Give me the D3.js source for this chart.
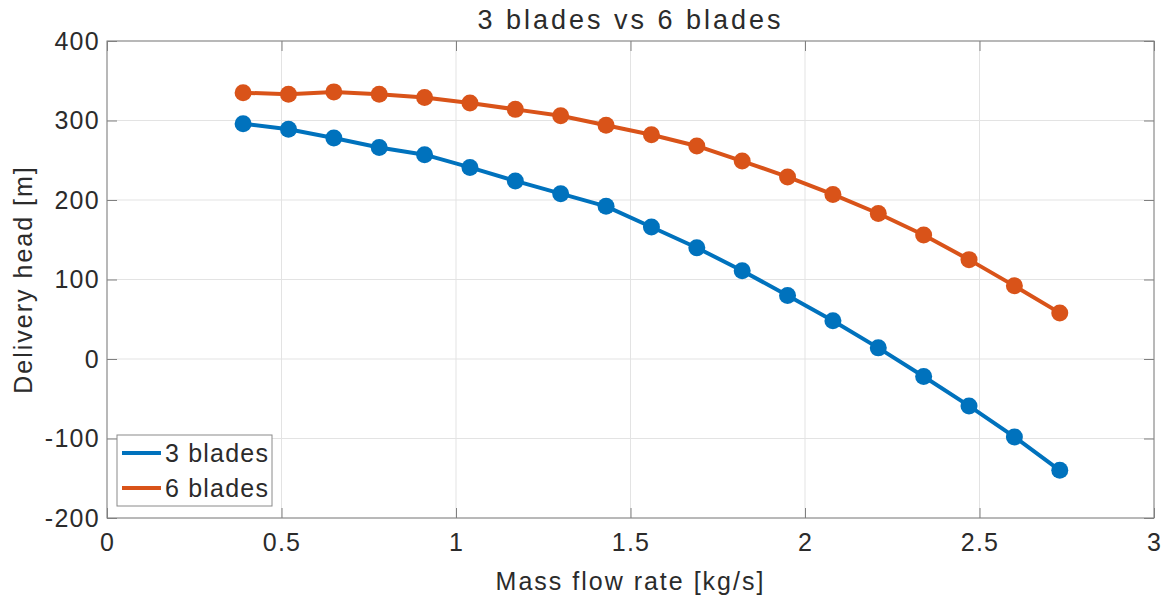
<!DOCTYPE html>
<html>
<head>
<meta charset="utf-8">
<script src="https://cdn.jsdelivr.net/npm/d3@7"></script>
<style>
  body { margin: 0; background: #fff; }
  text { font-family: "Liberation Sans", Arial, sans-serif; fill: #2b2b2b; }
</style>
</head>
<body>
<svg></svg>
<script>
// mass flow rate [kg/s]
const massFlow = [0.39, 0.52, 0.65, 0.78, 0.91, 1.04, 1.17, 1.30, 1.43, 1.56,
                  1.69, 1.82, 1.95, 2.08, 2.21, 2.34, 2.47, 2.60, 2.73];
// delivery head [m]
const head3 = [296, 289, 278, 266, 257, 241, 224, 208, 192, 166,
               140, 111, 80, 48, 14, -22, -59, -98, -140];
const head6 = [335, 333, 336, 333, 329, 322, 314, 306, 294, 282,
               268, 249, 229, 207, 183, 156, 125, 92, 58];
const seriesNames = ["3 blades", "6 blades"];
const seriesColors = ["#0072BD", "#D95319"];
const xTicks = [0, 0.5, 1, 1.5, 2, 2.5, 3];
const yTicks = [-200, -100, 0, 100, 200, 300, 400];

const svgWidth = 1173, svgHeight = 601;
const margin = { top: 41, right: 19, bottom: 83, left: 107 };
const width = svgWidth - margin.left - margin.right;
const height = svgHeight - margin.top - margin.bottom;
const fontSize = 25, spacing = 2, tickSpacing = 1.3;

const svg = d3.select("svg")
    .attr("width", svgWidth)
    .attr("height", svgHeight);

const g = svg.append("g")
    .attr("transform", "translate(" + margin.left + "," + margin.top + ")");

const x = d3.scaleLinear().domain([0, 3]).range([0, width]);
const y = d3.scaleLinear().domain([-200, 400]).range([height, 0]);

// grid
g.append("g").selectAll("line").data(xTicks).join("line")
    .attr("x1", function(d) { return x(d) }).attr("x2", function(d) { return x(d) })
    .attr("y1", 0).attr("y2", height)
    .attr("stroke", "#e3e3e3");
g.append("g").selectAll("line").data(yTicks).join("line")
    .attr("y1", function(d) { return y(d) }).attr("y2", function(d) { return y(d) })
    .attr("x1", 0).attr("x2", width)
    .attr("stroke", "#e3e3e3");

// axes, ticks inside on all four sides
function styleAxis(sel) {
    sel.attr("font-family", null);
    sel.selectAll(".domain").remove();
    sel.selectAll(".tick line").attr("stroke", "#808080");
    sel.selectAll(".tick text")
        .attr("font-size", fontSize)
        .style("letter-spacing", tickSpacing + "px")
        .attr("fill", "#2b2b2b");
}

g.append("g")
    .attr("transform", "translate(0," + height + ")")
    .call(d3.axisBottom(x).tickValues(xTicks).tickSizeInner(-10).tickSizeOuter(0).tickPadding(15)
        .tickFormat(function(d) { return d }))
    .call(styleAxis);

g.append("g")
    .call(d3.axisTop(x).tickValues(xTicks).tickSizeInner(-10).tickSizeOuter(0).tickFormat(""))
    .call(styleAxis);

g.append("g")
    .call(d3.axisLeft(y).tickValues(yTicks).tickSizeInner(-10).tickSizeOuter(0).tickPadding(7)
        .tickFormat(function(d) { return d }))
    .call(styleAxis);

g.append("g")
    .attr("transform", "translate(" + width + ",0)")
    .call(d3.axisRight(y).tickValues(yTicks).tickSizeInner(-10).tickSizeOuter(0).tickFormat(""))
    .call(styleAxis);

g.append("rect")
    .attr("width", width)
    .attr("height", height)
    .attr("fill", "none")
    .attr("stroke", "#808080")
    .attr("stroke-width", 1);

// series
const series = [head3, head6].map(function(vals, i) {
    return {
        name: seriesNames[i],
        color: seriesColors[i],
        values: vals.map(function(v, j) { return { x: massFlow[j], y: v } })
    };
});

const line = d3.line()
    .x(function(d) { return x(d.x) })
    .y(function(d) { return y(d.y) });

const sg = g.selectAll(".series").data(series).join("g").attr("class", "series");

sg.append("path")
    .attr("d", function(d) { return line(d.values) })
    .attr("fill", "none")
    .attr("stroke", function(d) { return d.color })
    .attr("stroke-width", 4)
    .attr("stroke-linejoin", "round");

sg.selectAll("circle")
    .data(function(d) { return d.values.map(function(v) { return { x: v.x, y: v.y, color: d.color } }) })
    .join("circle")
    .attr("cx", function(d) { return x(d.x) })
    .attr("cy", function(d) { return y(d.y) })
    .attr("r", 8.5)
    .attr("fill", function(d) { return d.color });

// title and labels
svg.append("text")
    .attr("x", margin.left + width / 2)
    .attr("y", 29)
    .attr("text-anchor", "middle")
    .attr("font-size", 27)
    .style("letter-spacing", "3px")
    .text("3 blades vs 6 blades");

svg.append("text")
    .attr("x", margin.left + width / 2)
    .attr("y", 590)
    .attr("text-anchor", "middle")
    .attr("font-size", fontSize)
    .style("letter-spacing", spacing + "px")
    .text("Mass flow rate [kg/s]");

svg.append("text")
    .attr("transform", "translate(32," + (margin.top + height / 2) + ") rotate(-90)")
    .attr("text-anchor", "middle")
    .attr("font-size", fontSize)
    .style("letter-spacing", spacing + "px")
    .text("Delivery head [m]");

// legend
const legend = g.append("g")
    .attr("transform", "translate(10," + (height - 83) + ")");

legend.append("rect")
    .attr("width", 155)
    .attr("height", 71)
    .attr("fill", "#fff")
    .attr("stroke", "#8a8a8a");

const item = legend.selectAll(".item").data(series).join("g")
    .attr("class", "item")
    .attr("transform", function(d, i) { return "translate(0," + (18 + i * 35) + ")" });

item.append("line")
    .attr("x1", 5).attr("x2", 44)
    .attr("stroke", function(d) { return d.color })
    .attr("stroke-width", 4);

item.append("text")
    .attr("x", 48)
    .attr("y", 9)
    .attr("font-size", fontSize)
    .style("letter-spacing", "1.2px")
    .text(function(d) { return d.name });
</script>
</body>
</html>
